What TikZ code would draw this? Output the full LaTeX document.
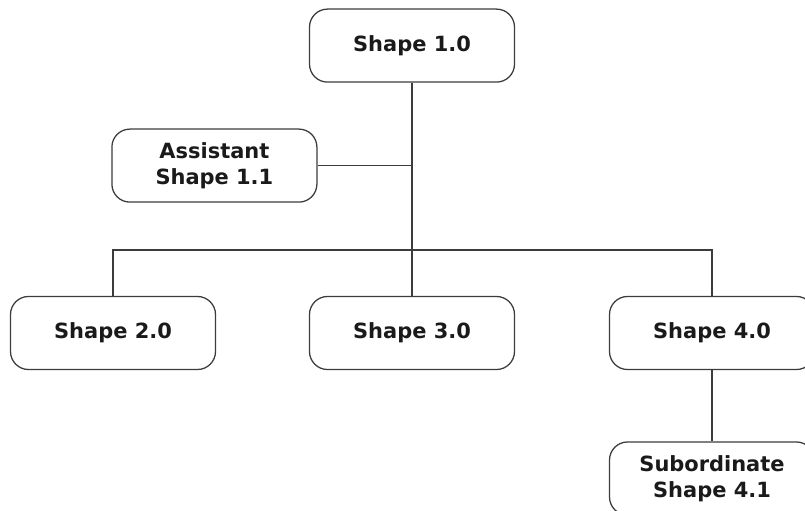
\documentclass[tikz,border=0pt]{standalone}
\usepackage{fontspec}
\setmainfont{DejaVu Sans}
\usetikzlibrary{positioning}
\definecolor{chartLine}{HTML}{3C3C3C}
\definecolor{chartText}{HTML}{1A1A1A}
\definecolor{chartBg}{HTML}{FFFFFF}
\begin{document}
\begin{tikzpicture}[
    x=1cm,y=1cm,
    every node/.style={font=\bfseries\fontsize{14.9}{18.4}\selectfont,align=center,text=chartText},
    orgbox/.style={draw=chartLine,fill=chartBg,rounded corners=0.45cm,line width=0.9pt,minimum width=5.125cm,minimum height=1.825cm,inner sep=0pt},
    link/.style={draw=chartLine,line width=1pt}
]
\useasboundingbox (0,0) rectangle (20.125,12.75);
\node[orgbox] (top) at (10.3,11.61) {Shape 1.0};
\node[orgbox] (asst) at (5.36,8.61) {Assistant\\Shape 1.1};
\node[orgbox] (shapetwo) at (2.825,4.425) {Shape 2.0};
\node[orgbox] (shapethree) at (10.3,4.425) {Shape 3.0};
\node[orgbox] (shapefour) at (17.8,4.425) {Shape 4.0};
\node[orgbox] (sub) at (17.8,0.7875) {Subordinate\\Shape 4.1};
\coordinate (bus) at (10.3,6.5);
\draw[link] (top) -- (shapethree);
\draw[link] (asst.east) -- (asst.east -| top.south);
\draw[link] (shapetwo.north) |- (bus) -| (shapefour.north);
\draw[link] (shapefour) -- (sub);
\end{tikzpicture}
\end{document}
